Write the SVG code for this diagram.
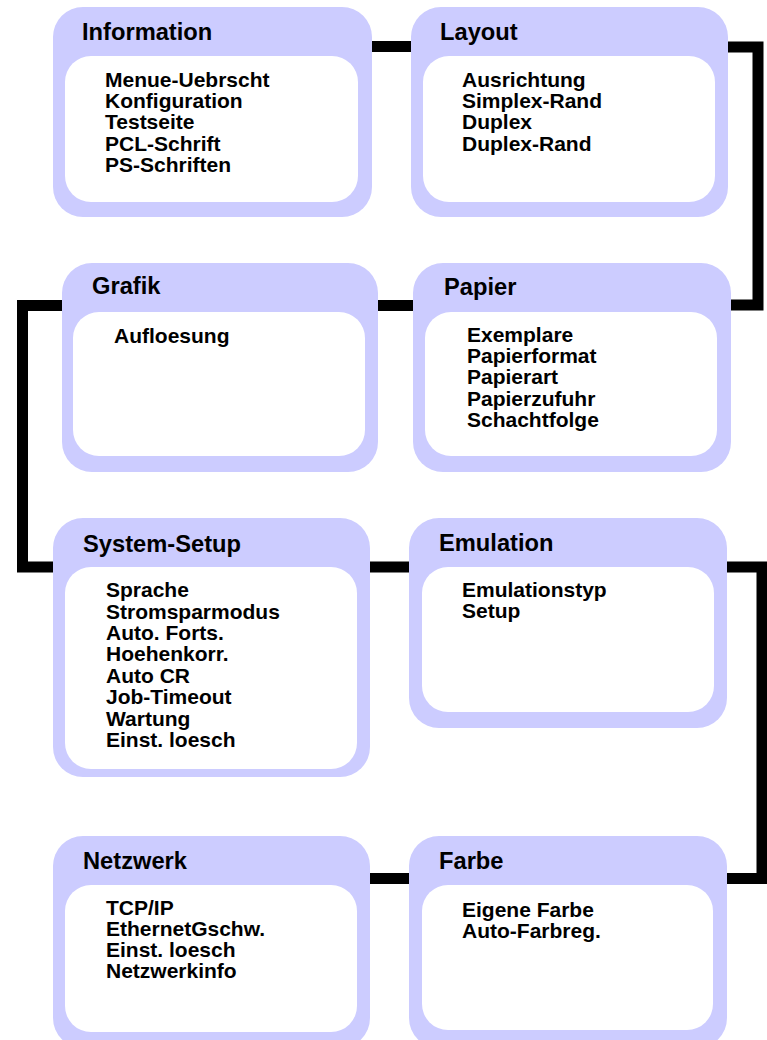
<svg xmlns="http://www.w3.org/2000/svg" width="767" height="1040" viewBox="0 0 767 1040">
<style>
.outer{fill:#CCCCFF}
.inner{fill:#FFFFFF}
.title{font-family:"Liberation Sans",Arial,sans-serif;font-weight:bold;font-size:23.7px;fill:#000}
.item{font-family:"Liberation Sans",Arial,sans-serif;font-weight:bold;font-size:21px;fill:#000}
.conn{fill:none;stroke:#000;stroke-width:11;stroke-linejoin:miter;stroke-linecap:butt}
</style>
<rect width="767" height="1040" fill="#FFFFFF"/>
<g id="connectors">
<path class="conn" d="M372,46.5 H411"/>
<path class="conn" d="M728,47 H758 V305 H731"/>
<path class="conn" d="M413,305.5 H378"/>
<path class="conn" d="M62,305.5 H22.5 V567 H53"/>
<path class="conn" d="M370,567 H409"/>
<path class="conn" d="M727,567 H762 V878.5 H727"/>
<path class="conn" d="M409,878.5 H370"/>
</g>
<g id="node-information">
<rect class="outer" x="53" y="7" width="319" height="210" rx="30"/>
<rect class="inner" x="65" y="56" width="293" height="146" rx="26"/>
<text class="title" x="82" y="40">Information</text>
<text class="item" x="105" y="87">Menue-Uebrscht</text>
<text class="item" x="105" y="108">Konfiguration</text>
<text class="item" x="105" y="129">Testseite</text>
<text class="item" x="105" y="151">PCL-Schrift</text>
<text class="item" x="105" y="172">PS-Schriften</text>
</g>
<g id="node-layout">
<rect class="outer" x="411" y="7" width="317" height="210" rx="30"/>
<rect class="inner" x="423" y="56" width="292" height="146" rx="26"/>
<text class="title" x="440" y="40">Layout</text>
<text class="item" x="462" y="87">Ausrichtung</text>
<text class="item" x="462" y="108">Simplex-Rand</text>
<text class="item" x="462" y="129">Duplex</text>
<text class="item" x="462" y="151">Duplex-Rand</text>
</g>
<g id="node-grafik">
<rect class="outer" x="62" y="263" width="316" height="209" rx="30"/>
<rect class="inner" x="73" y="312" width="292" height="144" rx="26"/>
<text class="title" x="92" y="294">Grafik</text>
<text class="item" x="114" y="343">Aufloesung</text>
</g>
<g id="node-papier">
<rect class="outer" x="413" y="263" width="318" height="209" rx="30"/>
<rect class="inner" x="425" y="312" width="292" height="144" rx="26"/>
<text class="title" x="444" y="295">Papier</text>
<text class="item" x="467" y="342">Exemplare</text>
<text class="item" x="467" y="363">Papierformat</text>
<text class="item" x="467" y="384">Papierart</text>
<text class="item" x="467" y="406">Papierzufuhr</text>
<text class="item" x="467" y="427">Schachtfolge</text>
</g>
<g id="node-system-setup">
<rect class="outer" x="53" y="518" width="317" height="259" rx="30"/>
<rect class="inner" x="65" y="567" width="292" height="202" rx="26"/>
<text class="title" x="83" y="552">System-Setup</text>
<text class="item" x="106" y="597">Sprache</text>
<text class="item" x="106" y="619">Stromsparmodus</text>
<text class="item" x="106" y="640">Auto. Forts.</text>
<text class="item" x="106" y="661">Hoehenkorr.</text>
<text class="item" x="106" y="683">Auto CR</text>
<text class="item" x="106" y="704">Job-Timeout</text>
<text class="item" x="106" y="726">Wartung</text>
<text class="item" x="106" y="747">Einst. loesch</text>
</g>
<g id="node-emulation">
<rect class="outer" x="409" y="518" width="318" height="210" rx="30"/>
<rect class="inner" x="422" y="567" width="292" height="145" rx="26"/>
<text class="title" x="439" y="551">Emulation</text>
<text class="item" x="462" y="597">Emulationstyp</text>
<text class="item" x="462" y="618">Setup</text>
</g>
<g id="node-netzwerk">
<rect class="outer" x="53" y="836" width="317" height="212" rx="30"/>
<rect class="inner" x="65" y="885" width="292" height="147" rx="26"/>
<text class="title" x="83" y="869">Netzwerk</text>
<text class="item" x="106" y="915">TCP/IP</text>
<text class="item" x="106" y="936">EthernetGschw.</text>
<text class="item" x="106" y="957">Einst. loesch</text>
<text class="item" x="106" y="978">Netzwerkinfo</text>
</g>
<g id="node-farbe">
<rect class="outer" x="409" y="836" width="318" height="212" rx="30"/>
<rect class="inner" x="422" y="885" width="291" height="145" rx="26"/>
<text class="title" x="439" y="869">Farbe</text>
<text class="item" x="462" y="917">Eigene Farbe</text>
<text class="item" x="462" y="938">Auto-Farbreg.</text>
</g>
</svg>
